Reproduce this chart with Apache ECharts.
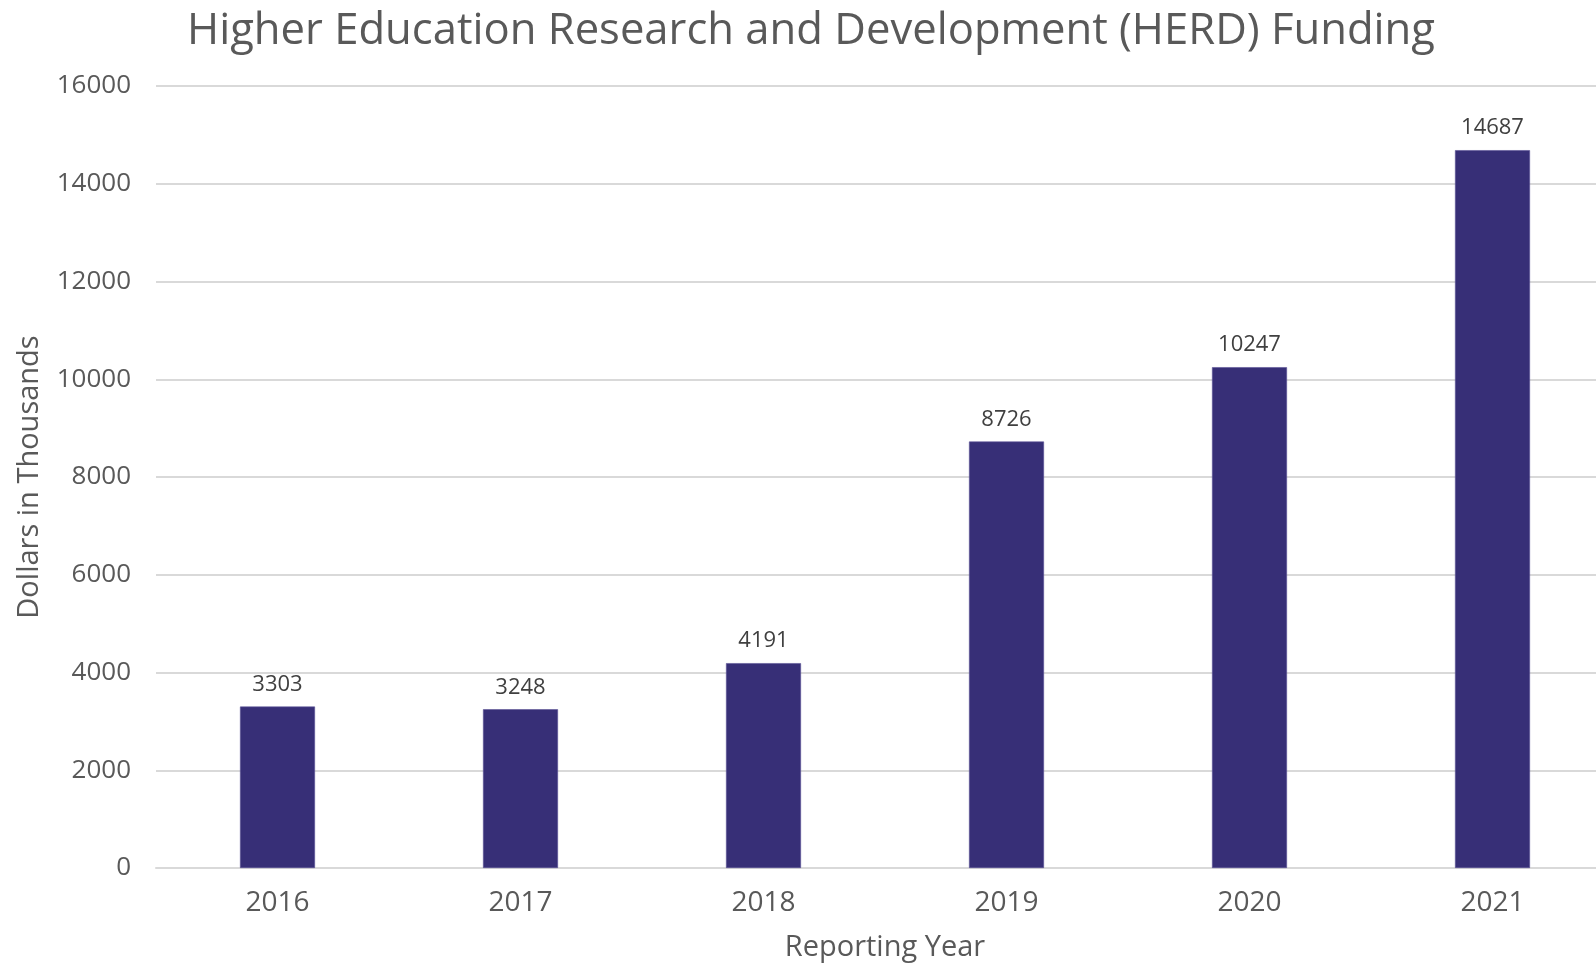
<!DOCTYPE html>
<html>
<head>
<meta charset="utf-8">
<title>HERD Funding</title>
<script src="https://cdn.jsdelivr.net/npm/echarts@6/dist/echarts.min.js"></script>
<style>
  html, body { margin: 0; padding: 0; background: #ffffff; overflow: hidden; }
  #chart { width: 1596px; height: 963px; }
</style>
</head>
<body>
<div id="chart"></div>
<script>
// Reporting years and HERD funding (dollars in thousands)
const years = ['2016', '2017', '2018', '2019', '2020', '2021'];
const funding = [3303, 3248, 4191, 8726, 10247, 14687];
const yTicks = { min: 0, max: 16000, interval: 2000 };

const axisFont = 'Open Sans';
const textGrey = '#595959';

const chart = echarts.init(document.getElementById('chart'), null, { renderer: 'canvas' });

chart.setOption({
  backgroundColor: '#ffffff',
  animation: false,
  title: {
    text: 'Higher Education Research and Development (HERD) Funding',
    left: 806,
    top: 5,
    textAlign: 'center',
    textStyle: { fontFamily: axisFont, fontWeight: 'normal', fontSize: 43.6, color: textGrey }
  },
  // the plot area runs a little past the right edge of the page
  grid: { left: 156, top: 86, width: 1458, height: 782, containLabel: false, outerBoundsMode: 'none' },
  xAxis: {
    type: 'category',
    data: years,
    name: 'Reporting Year',
    nameLocation: 'middle',
    nameGap: 65,
    nameTextStyle: { fontFamily: axisFont, fontSize: 29, color: textGrey, padding: [0, 0, 0, -1458 + 2 * (885 - 156)] },
    axisLine: { show: true, lineStyle: { color: '#d9d9d9', width: 2 } },
    axisTick: { show: false },
    axisLabel: { fontFamily: axisFont, fontSize: 28, color: textGrey, margin: 21 }
  },
  yAxis: {
    type: 'value',
    min: yTicks.min,
    max: yTicks.max,
    interval: yTicks.interval,
    name: 'Dollars in Thousands',
    nameLocation: 'middle',
    nameGap: 112,
    nameRotate: 90,
    nameTextStyle: { fontFamily: axisFont, fontSize: 29, color: textGrey },
    axisLine: { show: false },
    axisTick: { show: false },
    axisLabel: { fontFamily: axisFont, fontSize: 26, color: textGrey, margin: 25, formatter: (v) => String(v) },
    splitLine: { lineStyle: { color: '#d9d9d9', width: 2 } }
  },
  series: [{
    type: 'bar',
    data: funding,
    barWidth: 75,
    itemStyle: { color: '#372f77', borderColor: '#5a5396', borderWidth: 0.6 },
    label: {
      show: true,
      position: 'top',
      distance: 11,
      fontFamily: 'Open Sans',
      fontSize: 22,
      color: '#404040'
    }
  }]
});
</script>
</body>
</html>
